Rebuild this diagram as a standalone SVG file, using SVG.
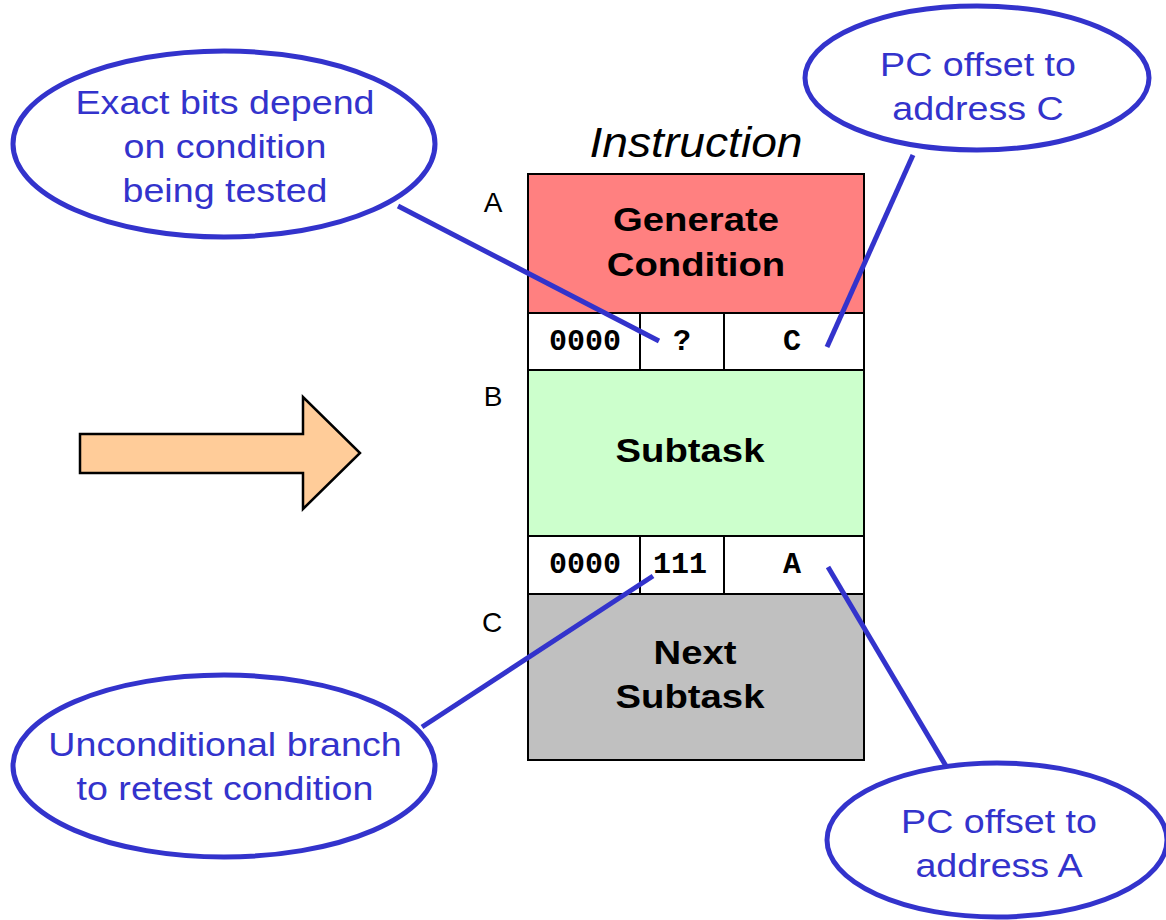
<svg xmlns="http://www.w3.org/2000/svg" width="1166" height="920" viewBox="0 0 1166 920">
<style>
.box{stroke:#000;stroke-width:2}
.bit{fill:#fff;stroke:#000;stroke-width:2}
.big{font-family:"Liberation Sans",Arial,sans-serif;font-weight:bold;font-size:33px;fill:#000;text-anchor:middle}
.mono{font-family:"Liberation Mono","Courier New",monospace;font-weight:bold;font-size:30px;fill:#000;text-anchor:middle}
.lbl{font-family:"Liberation Sans",Arial,sans-serif;font-size:28px;fill:#000;text-anchor:middle}
.call{fill:#fff;stroke:#3333cc;stroke-width:5}
.ct{font-family:"Liberation Sans",Arial,sans-serif;font-size:33px;fill:#3333cc;text-anchor:middle}
.conn{stroke:#3333cc;stroke-width:5;fill:none}
</style>
<rect width="1166" height="920" fill="#fff"/>
<g id="arrow">
<polygon points="80,434 303,434 303,397 360,453 303,509 303,473 80,473" fill="#ffcc99" stroke="#000" stroke-width="2.5"/>
</g>
<text transform="translate(696,157) scale(1.1,1)" class="lbl" style="font-style:italic;font-size:42px">Instruction</text>
<g id="labelA"><text x="493" y="212" class="lbl">A</text></g>
<g id="labelB"><text x="493" y="406" class="lbl">B</text></g>
<g id="labelC"><text x="492" y="632" class="lbl">C</text></g>
<g id="generate">
<rect x="528" y="174" width="336" height="139" fill="#ff8080" class="box"/>
<text transform="translate(696,231) scale(1.16,1)" class="big">Generate</text>
<text transform="translate(696,276) scale(1.16,1)" class="big">Condition</text>
</g>
<g id="bitsA">
<rect x="528" y="313" width="112" height="57" class="bit"/>
<rect x="640" y="313" width="84" height="57" class="bit"/>
<rect x="724" y="313" width="140" height="57" class="bit"/>
<text x="585" y="350" class="mono">0000</text>
<text x="682" y="350" class="mono">?</text>
<text x="792" y="350" class="mono">C</text>
</g>
<g id="subtask">
<rect x="528" y="370" width="336" height="166" fill="#ccffcc" class="box"/>
<text transform="translate(690,462) scale(1.16,1)" class="big">Subtask</text>
</g>
<g id="bitsB">
<rect x="528" y="536" width="112" height="58" class="bit"/>
<rect x="640" y="536" width="84" height="58" class="bit"/>
<rect x="724" y="536" width="140" height="58" class="bit"/>
<text x="585" y="573" class="mono">0000</text>
<text x="680" y="573" class="mono">111</text>
<text x="792" y="573" class="mono">A</text>
</g>
<g id="next">
<rect x="528" y="594" width="336" height="166" fill="#c0c0c0" class="box"/>
<text transform="translate(695,664) scale(1.16,1)" class="big">Next</text>
<text transform="translate(690,708) scale(1.16,1)" class="big">Subtask</text>
</g>
<g id="connectors">
<line x1="398" y1="206" x2="659" y2="341" class="conn"/>
<line x1="913" y1="155" x2="827" y2="347" class="conn"/>
<line x1="653" y1="576" x2="422" y2="727" class="conn"/>
<line x1="828" y1="567" x2="946" y2="766" class="conn"/>
</g>
<g id="callout1">
<ellipse cx="224" cy="144" rx="211" ry="93" class="call"/>
<text transform="translate(225,114) scale(1.14,1)" class="ct">Exact bits depend</text>
<text transform="translate(225,158) scale(1.14,1)" class="ct">on condition</text>
<text transform="translate(225,202) scale(1.14,1)" class="ct">being tested</text>
</g>
<g id="callout2">
<ellipse cx="977" cy="78" rx="172" ry="72" class="call"/>
<text transform="translate(978,76) scale(1.14,1)" class="ct">PC offset to</text>
<text transform="translate(978,120) scale(1.14,1)" class="ct">address C</text>
</g>
<g id="callout3">
<ellipse cx="224" cy="766" rx="211" ry="91" class="call"/>
<text transform="translate(225,756) scale(1.14,1)" class="ct">Unconditional branch</text>
<text transform="translate(225,800) scale(1.14,1)" class="ct">to retest condition</text>
</g>
<g id="callout4">
<ellipse cx="997" cy="840" rx="170" ry="77" class="call"/>
<text transform="translate(999,833) scale(1.14,1)" class="ct">PC offset to</text>
<text transform="translate(999,877) scale(1.14,1)" class="ct">address A</text>
</g>
</svg>
